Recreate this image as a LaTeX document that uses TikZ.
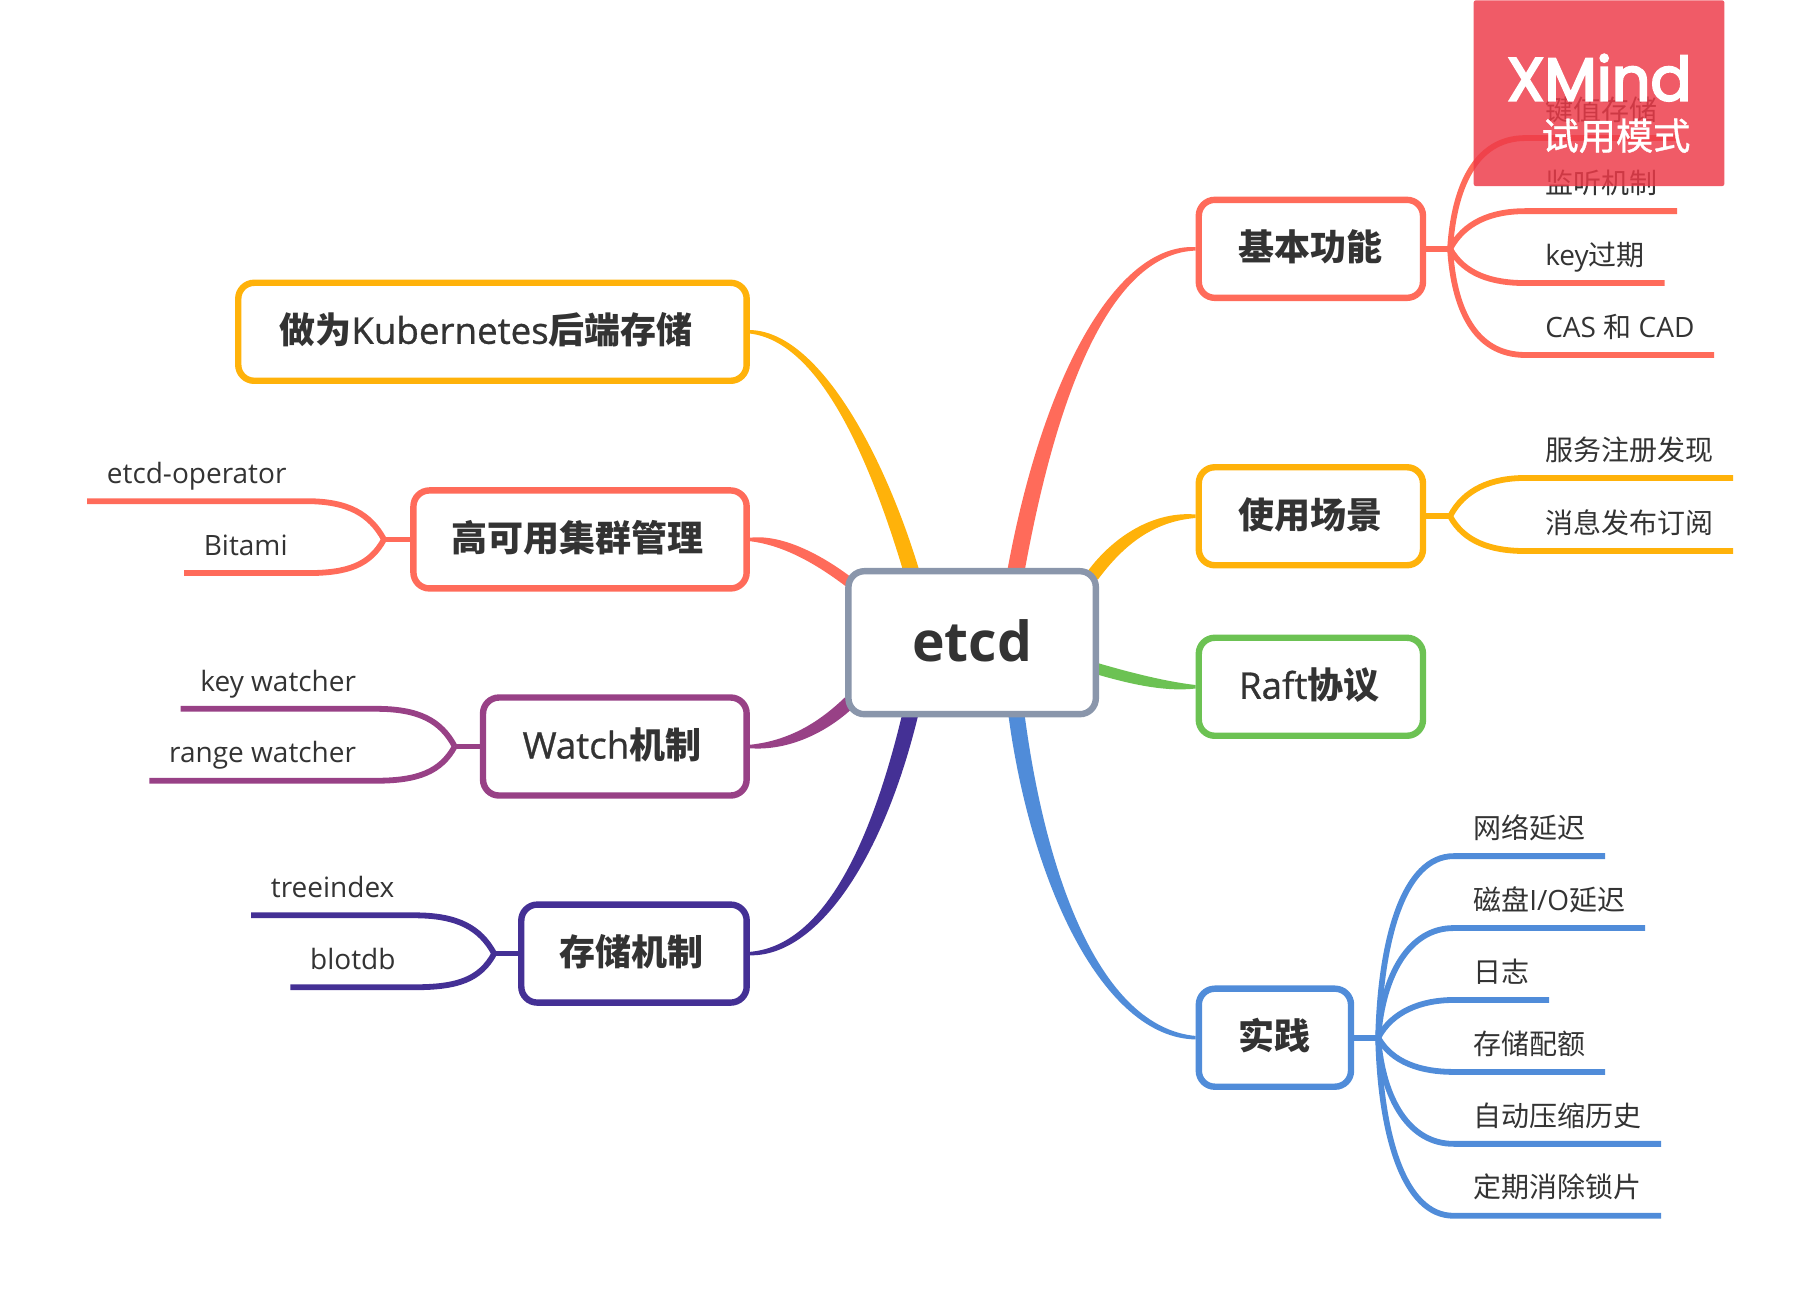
\documentclass[tikz,border=0pt]{standalone}
\usepackage{fontspec}
\setmainfont{Open Sans}
\newfontfamily\cjk{Noto Sans CJK SC}
\newfontfamily\cjkmed[FakeBold=1]{Noto Sans CJK SC}
\newfontfamily\latinmed[FakeBold=0.8,Scale=1.02]{Open Sans}
\newfontfamily\xmfont[FakeBold=3.5]{Poppins}
\usetikzlibrary{backgrounds,calc}
\definecolor{coral}{HTML}{FF6B5A}
\definecolor{amber}{HTML}{FFB20A}
\definecolor{leaf}{HTML}{6CC253}
\definecolor{azure}{HTML}{508CD9}
\definecolor{plum}{HTML}{984186}
\definecolor{navy}{HTML}{443095}
\definecolor{slate}{HTML}{8A96AB}
\definecolor{ink}{HTML}{333333}
\definecolor{trialred}{RGB}{237,58,72}
\newcommand{\cn}[1]{{\cjk #1}}
\newcommand{\cnb}[1]{{\cjk\bfseries #1}}
\newcommand{\lat}[1]{{\latinmed #1}}
% thick at the start (between #2 and #3, #2 the upper edge), thin at the end #6
\newcommand{\taper}[6]{%
	\path #2 coordinate (ta) #3 coordinate (tb) #6 coordinate (te);
	\fill[#1] (ta) .. controls ($#4+0.5*(ta)-0.5*(tb)$) and ($#5+(0,-4.5)$) .. ($(te)+(0,-1.5)$)
		-- ($(te)+(0,1.5)$) .. controls ($#5+(0,4.5)$) and ($#4-0.5*(ta)+0.5*(tb)$) .. (tb) -- cycle;}
\tikzset{
	topic/.style={draw=#1,line width=3.2pt,rounded corners=8pt,fill=white,text=ink,minimum height=49pt,text height=16pt,text depth=4pt,font=\fontsize{18}{22}\selectfont},
	subr/.style={anchor=south west,text=ink,inner xsep=9.9pt,inner ysep=0pt,outer sep=0pt,text height=13pt,text depth=8.9pt,font=\fontsize{14}{17}\selectfont},
	subl/.style={subr,anchor=south east},
	subline/.style={draw=#1,line width=2.9pt}
}
\begin{document}
\begin{tikzpicture}[x=0.58pt,y=-0.58pt]
	\useasboundingbox (0,0) rectangle (1568,1126.7);
	% central box and topics
	\node[draw=slate,line width=3.2pt,rounded corners=8pt,fill=white,text=ink,minimum width=123.7pt,minimum height=71.5pt,text height=21pt,text depth=2pt,font=\fontsize{27.6}{32}\selectfont\bfseries] (etcd) at (838,554) {etcd};
	\node[topic=coral,minimum width=112.1pt] (basic) at (1130,214.5) {\cnb{基本功能}};
	\node[topic=amber,minimum width=112.1pt] (usage) at (1130,445) {\cnb{使用场景}};
	\node[topic=leaf,minimum width=112.1pt] (raft) at (1130,592) {\lat{Raft}\cnb{协议}\kern1.7pt};
	\node[topic=azure,minimum width=76.1pt] (practice) at (1099,894.5) {\cnb{实践}};
	\node[topic=amber,minimum width=254.2pt] (k8s) at (424.5,286) {\cnb{做为}\lat{Kubernetes}\cnb{后端存储}\kern6.4pt};
	\node[topic=coral,minimum width=166.6pt] (ha) at (500,465) {\cnb{高可用集群管理}\kern2.3pt};
	\node[topic=plum,minimum width=131.8pt] (watch) at (530,643.5) {\lat{Watch}\cnb{机制}\kern2.9pt};
	\node[topic=navy,minimum width=112.7pt] (storage) at (546.5,822) {\cnb{存储机制}\kern2.3pt};
	% right subtopics
	\node[subr] (kv) at (1315,119) {\cn{键值存储}};
	\node[subr] (listen) at (1315,182) {\cn{监听机制}};
	\node[subr] (expire) at (1315,244) {key\cn{过期}};
	\node[subr] (cas) at (1315,306) {CAS \cn{和} CAD};
	\node[subr] (discover) at (1315,412) {\cn{服务注册发现}};
	\node[subr] (pubsub) at (1315,475) {\cn{消息发布订阅}};
	\node[subr] (delay) at (1253,738) {\cn{网络延迟}};
	\node[subr] (disk) at (1253,800) {\cn{磁盘}I/O\cn{延迟}};
	\node[subr] (logs) at (1253,862) {\cn{日志}};
	\node[subr] (quota) at (1253,924) {\cn{存储配额}};
	\node[subr] (compact) at (1253,986) {\cn{自动压缩历史}};
	\node[subr] (defrag) at (1253,1048) {\cn{定期消除锁片}};
	% left subtopics
	\node[subl] (operator) at (264,432) {etcd-operator};
	\node[subl] (bitami) at (265,494) {Bitami};
	\node[subl] (keyw) at (324,611) {key watcher};
	\node[subl] (rangew) at (324,673) {range watcher};
	\node[subl] (treeindex) at (357,789) {treeindex};
	\node[subl] (blotdb) at (358,851) {blotdb};
	% forks
	\coordinate (basicfork) at (1250,214.5);
	\coordinate (usagefork) at (1250,445);
	\coordinate (practicefork) at (1188,894.5);
	\coordinate (hafork) at (331,465);
	\coordinate (watchfork) at (392,643.5);
	\coordinate (storagefork) at (426,822);
	\begin{scope}[on background layer]
		\taper{coral}{($(etcd.north)+(30,4)$)}{($(etcd.north)+(45,4)$)}{(905,330)}{(960,214)}{(basic.west)}
		\taper{amber}{($(etcd.north east)+(-10,3)$)}{($(etcd.north east)+(-1,10)$)}{(965,465)}{(995,445)}{(usage.west)}
		\taper{leaf}{($(etcd.east)+(-3,17)$)}{($(etcd.east)+(-3,27)$)}{(975,585)}{(1005,592)}{(raft.west)}
		\taper{azure}{($(etcd.south)+(45,-4)$)}{($(etcd.south)+(31,-4)$)}{(895,760)}{(950,890)}{(practice.west)}
		\taper{amber}{($(etcd.north)+(-45,4)$)}{($(etcd.north)+(-59,4)$)}{(755,390)}{(705,290)}{(k8s.east)}
		\taper{coral}{($(etcd.north west)+(7,9.4)$)}{($(etcd.north west)+(1.5,16.6)$)}{(702,479)}{(672,465)}{(ha.east)}
		\taper{plum}{($(etcd.south west)+(1,-18.5)$)}{($(etcd.south west)+(9,-10.5)$)}{(710,627)}{(680,643)}{(watch.east)}
		\taper{navy}{($(etcd.south)+(-60,-4)$)}{($(etcd.south)+(-46,-4)$)}{(755,740)}{(705,820)}{(storage.east)}
		\draw[subline=coral] (basic.east) -- (basicfork);
		\draw[subline=coral] (basicfork) .. controls (1253,165) and (1270,119) .. (kv.south west) -- (kv.south east);
		\draw[subline=coral] (basicfork) .. controls (1262,192) and (1285,182) .. (listen.south west) -- (listen.south east);
		\draw[subline=coral] (basicfork) .. controls (1262,236) and (1285,244) .. (expire.south west) -- (expire.south east);
		\draw[subline=coral] (basicfork) .. controls (1253,264) and (1270,306) .. (cas.south west) -- (cas.south east);
		\draw[subline=amber] (usage.east) -- (usagefork);
		\draw[subline=amber] (usagefork) .. controls (1262,422) and (1285,412) .. (discover.south west) -- (discover.south east);
		\draw[subline=amber] (usagefork) .. controls (1262,467) and (1285,475) .. (pubsub.south west) -- (pubsub.south east);
		\draw[subline=azure] (practice.east) -- (practicefork);
		\draw[subline=azure] (practicefork) .. controls (1190,810) and (1210,738) .. (delay.south west) -- (delay.south east);
		\draw[subline=azure] (practicefork) .. controls (1192,840) and (1215,800) .. (disk.south west) -- (disk.south east);
		\draw[subline=azure] (practicefork) .. controls (1200,872) and (1225,862) .. (logs.south west) -- (logs.south east);
		\draw[subline=azure] (practicefork) .. controls (1200,916) and (1225,924) .. (quota.south west) -- (quota.south east);
		\draw[subline=azure] (practicefork) .. controls (1192,948) and (1215,986) .. (compact.south west) -- (compact.south east);
		\draw[subline=azure] (practicefork) .. controls (1190,978) and (1210,1048) .. (defrag.south west) -- (defrag.south east);
		\draw[subline=coral] (ha.west) -- (hafork);
		\draw[subline=coral] (hafork) .. controls (319,443) and (300,432) .. (operator.south east) -- (operator.south west);
		\draw[subline=coral] (hafork) .. controls (319,487) and (300,494) .. (bitami.south east) -- (bitami.south west);
		\draw[subline=plum] (watch.west) -- (watchfork);
		\draw[subline=plum] (watchfork) .. controls (380,621) and (361,611) .. (keyw.south east) -- (keyw.south west);
		\draw[subline=plum] (watchfork) .. controls (380,665) and (361,673) .. (rangew.south east) -- (rangew.south west);
		\draw[subline=navy] (storage.west) -- (storagefork);
		\draw[subline=navy] (storagefork) .. controls (414,800) and (395,789) .. (treeindex.south east) -- (treeindex.south west);
		\draw[subline=navy] (storagefork) .. controls (414,844) and (395,851) .. (blotdb.south east) -- (blotdb.south west);
	\end{scope}
	% trial stamp
	\node[fill=trialred,fill opacity=0.83,rounded corners=1pt,anchor=north west,minimum width=125.3pt,minimum height=92.8pt,inner sep=0pt] (trial) at (1270,0) {};
	\node[text=white,inner sep=0pt,font=\xmfont\fontsize{30.3}{34}\selectfont] (xmind) at (1378.5,67) {XMind};
	\node[text=white,inner sep=0pt,font=\fontsize{18.6}{22}\selectfont] (trialmode) at (1393,117) {{\cjkmed 试用模式}};
\end{tikzpicture}
\end{document}
